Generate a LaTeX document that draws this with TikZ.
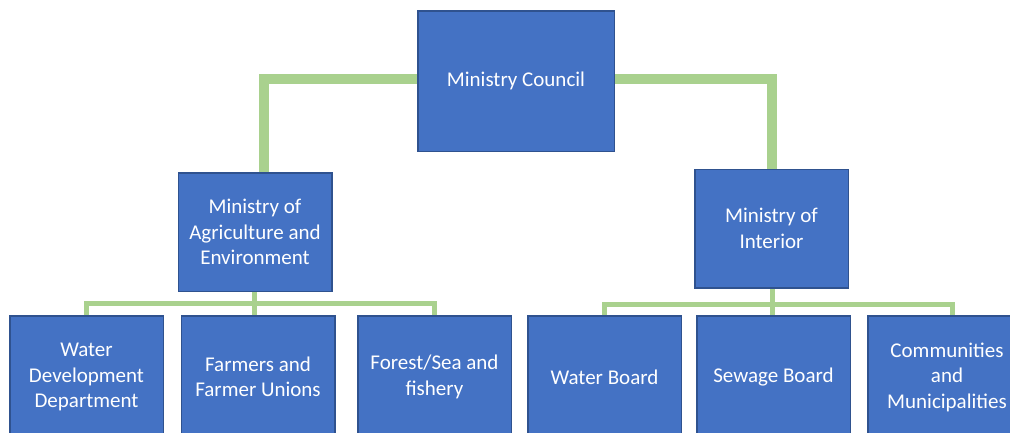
\documentclass[tikz,border=0pt]{standalone}
\usepackage{fontspec}
\setmainfont{Carlito}
\definecolor{boxblue}{HTML}{4472C4}
\definecolor{boxedge}{HTML}{2F528F}
\definecolor{linkgreen}{HTML}{A9D18E}
\begin{document}
\begin{tikzpicture}[x=1pt,y=-1pt,
  unit/.style={rectangle, fill=boxblue, draw=boxedge, line width=0.8pt,
    text=white, align=center, inner sep=2pt,
    font=\fontsize{21}{25.5}\selectfont},
  topbox/.style={unit, minimum width=196pt, minimum height=140pt},
  midbox/.style={unit, minimum width=153pt, minimum height=118pt},
  lowbox/.style={unit, minimum width=153pt, minimum height=122pt},
  mainlink/.style={draw=linkgreen, line width=10pt},
  sublink/.style={draw=linkgreen, line width=5pt}]
\useasboundingbox (0,0) rectangle (1010,432);
\clip (0,0) rectangle (1010,432);

% levels of the chart
\node[topbox] (council) at (516,81) {Ministry Council};
\node[midbox] (agri) at (255,232) {Ministry of\\Agriculture and\\Environment};
\node[midbox] (interior) at (771.5,228.5) {Ministry of\\Interior};

\node[lowbox] (wdd) at (86.5,377) {Water\\Development\\Department};
\node[lowbox] (farm) at (258,377) {Farmers and\\Farmer Unions};
\node[lowbox] (forest) at (434.5,377) {Forest/Sea and\\fishery};
\node[lowbox] (wboard) at (604.5,377) {Water Board};
\node[lowbox] (sboard) at (773.5,377) {Sewage Board};
\node[lowbox, minimum width=158pt] (comm) at (947,377) {Communities\\and\\Municipalities};

% bus lines under the ministries
\coordinate (lbar) at (254,303);
\coordinate (rbar) at (772,304);

% council to ministries
\draw[mainlink] ([yshift=2pt]council.west) -| ([xshift=9pt]agri.north);
\draw[mainlink] ([yshift=2pt]council.east) -| (interior.north);

% agriculture branch
\draw[sublink] ([xshift=-1pt]agri.south) -- (lbar);
\draw[sublink] (wdd.north) |- (forest.north |- lbar) -- (forest.north);
\draw[sublink] ([xshift=-4pt]farm.north) -- ([xshift=-4pt]farm.north |- lbar);

% interior branch
\draw[sublink] ([xshift=0.5pt]interior.south) -- (rbar);
\draw[sublink] (wboard.north) |- ([xshift=5pt]comm.north |- rbar) -- ([xshift=5pt]comm.north);
\draw[sublink] ([xshift=-1.5pt]sboard.north) -- ([xshift=-1.5pt]sboard.north |- rbar);

% redraw the box outlines over the link ends
\foreach \n in {council,agri,interior,wdd,farm,forest,wboard,sboard,comm}
  \draw[boxedge, line width=0.8pt] (\n.north west) rectangle (\n.south east);
\end{tikzpicture}
\end{document}
